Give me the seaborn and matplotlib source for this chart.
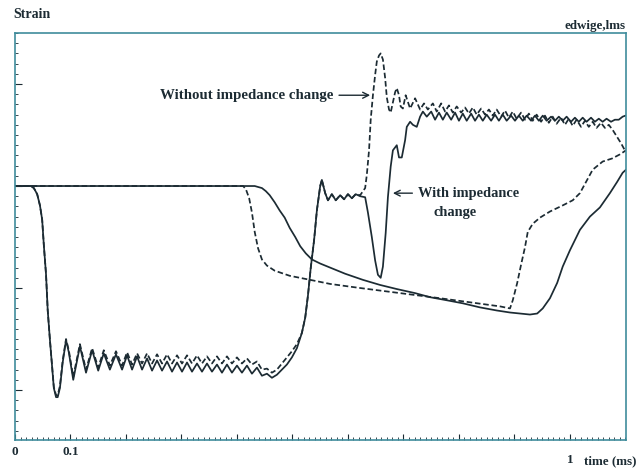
import seaborn as sns
import matplotlib.pyplot as plt
from matplotlib.ticker import FixedLocator, MultipleLocator
from matplotlib.transforms import ScaledTranslation

# time in ms, strain in arbitrary units (one major tick = 1)

# first gauge, with impedance change (solid)
with1_t = [0, 0.029, 0.034, 0.040, 0.045, 0.049, 0.052, 0.056, 0.059, 0.063,
           0.067, 0.070, 0.074, 0.077, 0.081, 0.086, 0.092, 0.097, 0.105, 0.117,
           0.128, 0.139, 0.150, 0.160, 0.171, 0.182, 0.193, 0.202, 0.211, 0.220,
           0.229, 0.238, 0.247, 0.256, 0.265, 0.274, 0.283, 0.292, 0.301, 0.310,
           0.319, 0.328, 0.337, 0.346, 0.355, 0.364, 0.373, 0.382, 0.391, 0.400,
           0.409, 0.418, 0.427, 0.436, 0.445, 0.454, 0.463, 0.472, 0.481, 0.490,
           0.499, 0.508, 0.517, 0.523, 0.528, 0.533, 0.539, 0.544, 0.550, 0.553,
           0.559, 0.564, 0.571, 0.578, 0.586, 0.593, 0.600, 0.607, 0.614, 0.622,
           0.631, 0.636, 0.643, 0.649, 0.654, 0.659, 0.663, 0.668, 0.672, 0.677,
           0.681, 0.688, 0.692, 0.697, 0.703, 0.706, 0.712, 0.717, 0.724, 0.730,
           0.735, 0.742, 0.750, 0.757, 0.764, 0.771, 0.778, 0.786, 0.793, 0.800,
           0.807, 0.814, 0.822, 0.829, 0.836, 0.843, 0.850, 0.858, 0.865, 0.872,
           0.879, 0.886, 0.894, 0.901, 0.908, 0.915, 0.922, 0.930, 0.937, 0.944,
           0.951, 0.958, 0.966, 0.973, 0.980, 0.987, 0.994, 1.002, 1.009, 1.016,
           1.023, 1.030, 1.038, 1.045, 1.052, 1.059, 1.066, 1.074, 1.081, 1.088,
           1.095, 1.100]
with1_s = [0, 0, -0.02, -0.08, -0.19, -0.33, -0.58, -0.87, -1.22, -1.51,
           -1.78, -1.98, -2.07, -2.07, -1.98, -1.73, -1.51, -1.63, -1.90, -1.57,
           -1.83, -1.61, -1.81, -1.64, -1.80, -1.65, -1.80, -1.66, -1.80, -1.67,
           -1.80, -1.69, -1.81, -1.71, -1.81, -1.72, -1.82, -1.73, -1.82, -1.73,
           -1.82, -1.74, -1.82, -1.74, -1.82, -1.75, -1.83, -1.75, -1.83, -1.76,
           -1.83, -1.76, -1.84, -1.78, -1.86, -1.84, -1.88, -1.85, -1.80, -1.75,
           -1.68, -1.59, -1.44, -1.29, -1.07, -0.80, -0.53, -0.24, 0.00, 0.06,
           -0.07, -0.14, -0.08, -0.14, -0.09, -0.13, -0.08, -0.12, -0.08, -0.10,
           -0.11, -0.26, -0.50, -0.73, -0.87, -0.90, -0.79, -0.46, -0.11, 0.19,
           0.35, 0.40, 0.28, 0.28, 0.45, 0.58, 0.63, 0.60, 0.58, 0.68,
           0.73, 0.68, 0.73, 0.65, 0.72, 0.65, 0.72, 0.65, 0.72, 0.64,
           0.71, 0.64, 0.71, 0.64, 0.70, 0.64, 0.70, 0.64, 0.70, 0.64,
           0.70, 0.64, 0.69, 0.64, 0.69, 0.64, 0.69, 0.64, 0.69, 0.64,
           0.69, 0.64, 0.68, 0.64, 0.68, 0.64, 0.68, 0.63, 0.67, 0.63,
           0.67, 0.63, 0.67, 0.63, 0.66, 0.63, 0.66, 0.63, 0.65, 0.65,
           0.68, 0.69]

# first gauge, without impedance change (dashed)
without1_t = [0, 0.029, 0.034, 0.040, 0.045, 0.049, 0.052, 0.056, 0.059, 0.063,
              0.067, 0.070, 0.074, 0.077, 0.081, 0.086, 0.092, 0.097, 0.105, 0.117,
              0.128, 0.139, 0.150, 0.160, 0.171, 0.182, 0.193, 0.202, 0.211, 0.220,
              0.229, 0.238, 0.247, 0.256, 0.265, 0.274, 0.283, 0.292, 0.301, 0.310,
              0.319, 0.328, 0.337, 0.346, 0.355, 0.364, 0.373, 0.382, 0.391, 0.400,
              0.409, 0.418, 0.427, 0.436, 0.445, 0.454, 0.463, 0.472, 0.481, 0.490,
              0.499, 0.508, 0.517, 0.523, 0.528, 0.533, 0.539, 0.544, 0.550, 0.553,
              0.559, 0.564, 0.571, 0.578, 0.586, 0.593, 0.600, 0.607, 0.614, 0.622,
              0.631, 0.634, 0.638, 0.641, 0.645, 0.649, 0.652, 0.656, 0.659, 0.663,
              0.667, 0.670, 0.674, 0.677, 0.681, 0.685, 0.688, 0.692, 0.695, 0.699,
              0.704, 0.712, 0.721, 0.730, 0.737, 0.744, 0.753, 0.760, 0.768, 0.775,
              0.782, 0.789, 0.796, 0.804, 0.811, 0.818, 0.825, 0.832, 0.840, 0.847,
              0.854, 0.861, 0.868, 0.876, 0.883, 0.890, 0.897, 0.904, 0.912, 0.919,
              0.926, 0.933, 0.940, 0.948, 0.955, 0.962, 0.969, 0.976, 0.984, 0.991,
              0.998, 1.005, 1.012, 1.020, 1.027, 1.034, 1.041, 1.048, 1.056, 1.063,
              1.070, 1.077, 1.084, 1.092, 1.099]
without1_s = [0, 0, -0.02, -0.08, -0.19, -0.33, -0.58, -0.87, -1.22, -1.51,
              -1.78, -1.97, -2.05, -2.05, -1.96, -1.71, -1.50, -1.61, -1.87, -1.55,
              -1.80, -1.59, -1.78, -1.61, -1.76, -1.62, -1.76, -1.63, -1.75, -1.64,
              -1.74, -1.64, -1.74, -1.65, -1.74, -1.65, -1.74, -1.66, -1.74, -1.66,
              -1.74, -1.66, -1.74, -1.67, -1.74, -1.67, -1.74, -1.67, -1.74, -1.68,
              -1.74, -1.69, -1.75, -1.72, -1.80, -1.79, -1.83, -1.80, -1.74, -1.68,
              -1.62, -1.55, -1.44, -1.29, -1.07, -0.80, -0.53, -0.24, 0.00, 0.06,
              -0.07, -0.14, -0.08, -0.14, -0.09, -0.13, -0.08, -0.12, -0.08, -0.09,
              -0.02, 0.11, 0.35, 0.65, 0.89, 1.09, 1.22, 1.28, 1.30, 1.24,
              1.06, 0.87, 0.75, 0.72, 0.82, 0.92, 0.96, 0.89, 0.78, 0.76,
              0.89, 0.76, 0.86, 0.75, 0.81, 0.75, 0.81, 0.73, 0.81, 0.73,
              0.79, 0.72, 0.78, 0.72, 0.77, 0.71, 0.77, 0.70, 0.76, 0.70,
              0.75, 0.69, 0.75, 0.68, 0.74, 0.67, 0.73, 0.66, 0.72, 0.65,
              0.71, 0.64, 0.70, 0.63, 0.69, 0.62, 0.68, 0.61, 0.67, 0.60,
              0.66, 0.59, 0.65, 0.58, 0.64, 0.58, 0.63, 0.57, 0.62, 0.57,
              0.60, 0.55, 0.49, 0.42, 0.35]

# second gauge, with impedance change (solid)
with2_t = [0, 0.432, 0.445, 0.452, 0.459, 0.468, 0.477, 0.486, 0.495, 0.505,
           0.514, 0.524, 0.535, 0.550, 0.568, 0.595, 0.627, 0.658, 0.688, 0.721,
           0.748, 0.778, 0.807, 0.838, 0.868, 0.892, 0.910, 0.928, 0.941, 0.951,
           0.964, 0.977, 0.987, 1.000, 1.018, 1.036, 1.054, 1.072, 1.085, 1.095,
           1.101]
with2_s = [0, 0, -0.02, -0.05, -0.09, -0.16, -0.24, -0.31, -0.41, -0.50,
           -0.59, -0.66, -0.72, -0.76, -0.80, -0.86, -0.92, -0.97, -1.01, -1.05,
           -1.09, -1.12, -1.15, -1.19, -1.22, -1.24, -1.25, -1.26, -1.25, -1.20,
           -1.10, -0.95, -0.79, -0.63, -0.43, -0.30, -0.21, -0.07, 0.04, 0.13,
           0.16]

# second gauge, without impedance change (dashed)
without2_t = [0, 0.411, 0.416, 0.422, 0.427, 0.432, 0.438, 0.445, 0.454, 0.468,
              0.495, 0.532, 0.568, 0.622, 0.694, 0.766, 0.820, 0.874, 0.892, 0.897,
              0.905, 0.912, 0.919, 0.924, 0.933, 0.946, 0.964, 0.987, 1.005, 1.018,
              1.031, 1.041, 1.059, 1.076, 1.090, 1.101]
without2_s = [0, 0, -0.03, -0.12, -0.26, -0.45, -0.61, -0.72, -0.78, -0.83,
              -0.88, -0.92, -0.96, -1.00, -1.05, -1.10, -1.14, -1.18, -1.20, -1.12,
              -0.95, -0.77, -0.60, -0.45, -0.37, -0.31, -0.25, -0.19, -0.14, -0.07,
              0.06, 0.16, 0.24, 0.27, 0.31, 0.35]

x_ticks = [0, 0.1, 0.2, 0.3, 0.4, 0.5, 0.6, 0.7, 0.8, 0.9, 1.0]
x_tick_labels = ["0", "0.1", "", "", "", "", "", "", "", "", "1"]
y_ticks = [-2, -1, 0, 1]

ink = "#1c2b33"
frame = "#3f8c9c"
dash = (0, (3.2, 1.6))

sns.set_theme(style="white")
plt.rcParams["font.family"] = ["Liberation Serif", "DejaVu Serif"]
plt.rcParams["font.weight"] = "bold"

fig = plt.figure(figsize=(6.4, 4.71), dpi=100)
ax = fig.add_axes([0.0234, 0.0658, 0.9547, 0.8641])

traces = [(with1_t, with1_s, "-"), (without1_t, without1_s, dash),
          (with2_t, with2_s, "-"), (without2_t, without2_s, dash)]
for t, s, ls in traces:
    sns.lineplot(x=t, y=s, ax=ax, color=ink, linewidth=1.25, linestyle=ls,
                 sort=False, estimator=None, solid_joinstyle="round")

ax.set_xlim(0, 1.101)
ax.set_ylim(-2.49, 1.5)

ax.xaxis.set_major_locator(FixedLocator(x_ticks))
ax.set_xticklabels(x_tick_labels)
ax.xaxis.set_minor_locator(MultipleLocator(0.01))
ax.yaxis.set_major_locator(FixedLocator(y_ticks))
ax.set_yticklabels([])
ax.yaxis.set_minor_locator(MultipleLocator(0.1))

ax.tick_params(axis="x", which="major", direction="in", length=4, width=0.8,
               color=ink, pad=4, labelsize=9.5, labelcolor=ink)
ax.tick_params(axis="y", which="major", direction="in", length=5, width=0.8,
               color=ink)
ax.tick_params(which="minor", direction="in", length=2, width=0.6, color=ink)
ax.tick_params(bottom=True, left=True, which="both")

# the "1" sits a bit lower than "0" and "0.1"
lab = ax.get_xticklabels()[-1]
lab.set_transform(lab.get_transform() + ScaledTranslation(0, -6 / 72, fig.dpi_scale_trans))

for sp in ax.spines.values():
    sp.set_color(frame)
    sp.set_linewidth(1.2)

ax.annotate("Without impedance change", xy=(0.640, 0.89), xytext=(0.573, 0.89),
            ha="right", va="center", fontsize=10.7, color=ink, fontweight="bold",
            arrowprops=dict(arrowstyle="->", color=ink, lw=1, shrinkA=2, shrinkB=0))
ax.annotate("With impedance", xy=(0.681, -0.07), xytext=(0.727, -0.07),
            ha="left", va="center", fontsize=10.4, color=ink, fontweight="bold",
            arrowprops=dict(arrowstyle="->", color=ink, lw=1, shrinkA=2, shrinkB=0))
ax.text(0.793, -0.26, "change", ha="center", va="center", fontsize=10.4,
        color=ink, fontweight="bold")

fig.text(13 / 640, 1 - 15 / 471, "Strain", ha="left", va="center",
         fontsize=10, color=ink, fontweight="bold")
fig.text(626 / 640, 1 - 26 / 471, "edwige,lms", ha="right", va="center",
         fontsize=9.4, color=ink, fontweight="bold")
fig.text(584 / 640, 1 - 461 / 471, "time (ms)", ha="left", va="center",
         fontsize=9.4, color=ink, fontweight="bold")

fig.savefig("out.png", dpi=100, facecolor="white")
